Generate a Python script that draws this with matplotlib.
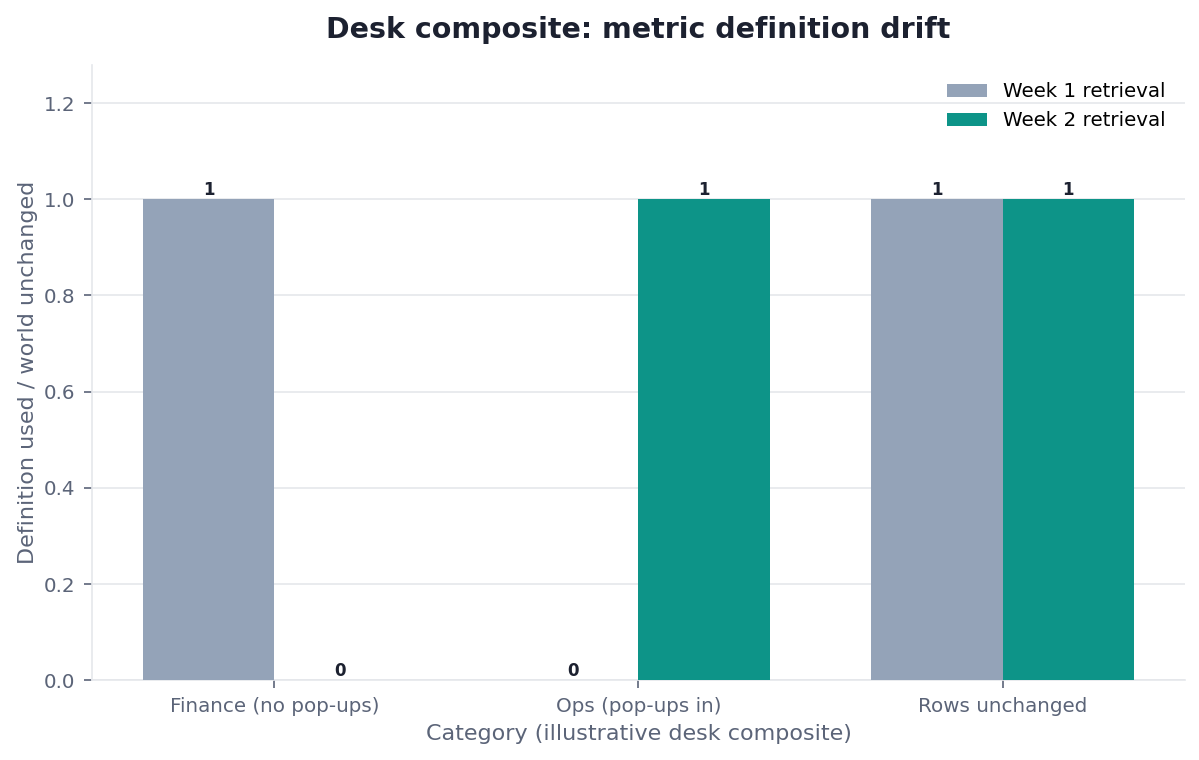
import numpy as np
import matplotlib.pyplot as plt

categories = ['Finance (no pop-ups)', 'Ops (pop-ups in)', 'Rows unchanged']
week1 = [1, 0, 1]
week2 = [0, 1, 1]
series_names = ['Week 1 retrieval', 'Week 2 retrieval']

c_week1 = '#94a3b8'
c_week2 = '#0d9488'
tick_col = '#5b6478'
spine_col = '#e5e7eb'

fig, ax = plt.subplots(figsize=(11.99, 7.6), dpi=100)
fig.subplots_adjust(left=0.077, right=0.988, top=0.915, bottom=0.105)

x = np.arange(len(categories))
w = 0.36
b1 = ax.bar(x - w / 2, week1, w, color=c_week1, label=series_names[0], zorder=3)
b2 = ax.bar(x + w / 2, week2, w, color=c_week2, label=series_names[1], zorder=3)

for bars in (b1, b2):
    for r in bars:
        h = r.get_height()
        ax.text(r.get_x() + r.get_width() / 2, h, f'{h:g}',
                ha='center', va='bottom', fontsize=12, fontweight='bold',
                color='#1c2130')

ax.set_xlim(-0.5, 2.5)
ax.set_ylim(0, 1.28)
ax.set_yticks([0, 0.2, 0.4, 0.6, 0.8, 1.0, 1.2])
ax.set_xticks(x)
ax.set_xticklabels(categories)

ax.grid(axis='y', color=spine_col, linewidth=1.2, zorder=0)
ax.set_axisbelow(True)
for s in ['top', 'right']:
    ax.spines[s].set_visible(False)
for s in ['left', 'bottom']:
    ax.spines[s].set_color(spine_col)
    ax.spines[s].set_linewidth(1.2)
ax.tick_params(axis='both', colors=tick_col, labelsize=14.3, length=6, width=1.2, pad=6)

ax.set_title('Desk composite: metric definition drift', fontsize=20.5,
             fontweight='bold', color='#1c2130', pad=19)
ax.set_xlabel('Category (illustrative desk composite)', fontsize=16, color=tick_col,
              labelpad=6)
ax.set_ylabel('Definition used / world unchanged', fontsize=16, color=tick_col,
              labelpad=4)

ax.legend(loc='upper right', frameon=False, fontsize=14.3, handlelength=2.0,
          bbox_to_anchor=(0.999, 1.0))

fig.savefig('out.png', dpi=100)
